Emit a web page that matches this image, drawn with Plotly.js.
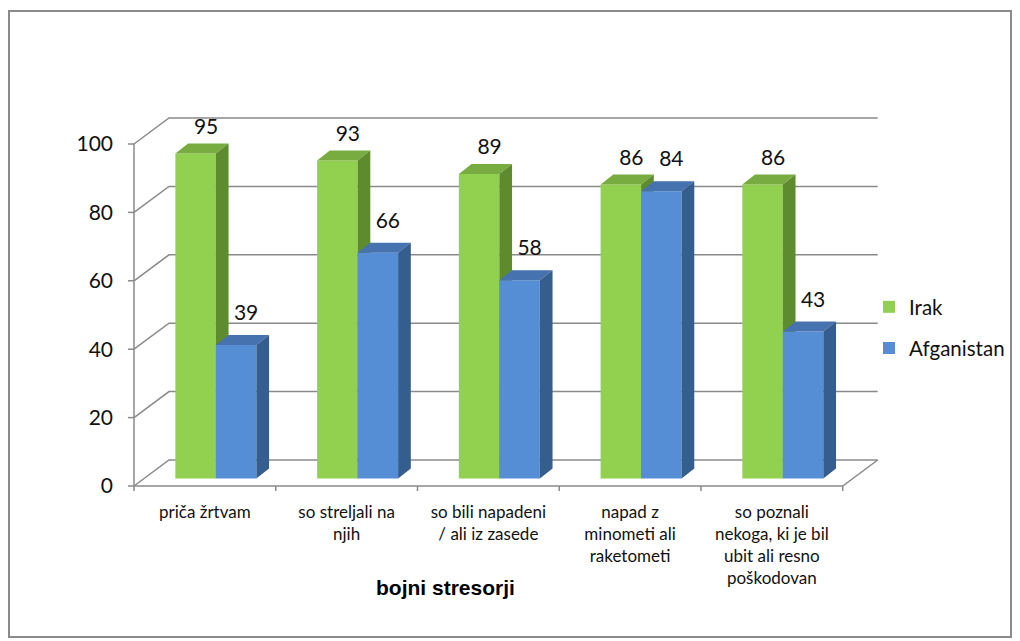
<!DOCTYPE html>
<html>
<head>
<meta charset="utf-8">
<script src="https://cdn.plot.ly/plotly-3.0.1.min.js"></script>
<style>
  html, body { margin: 0; padding: 0; background: #fff; }
  #wrap { position: relative; width: 1020px; height: 641px; }
  #chart { width: 1020px; height: 641px; }
  #frame { position: absolute; left: 8px; top: 10px; width: 1004px; height: 628px;
           border: 2px solid #8a8a8a; box-sizing: border-box; pointer-events: none; }
</style>
</head>
<body>
<div id="wrap"><div id="chart"></div><div id="frame"></div></div>
<script>
// ---- data ----
const categories = [
  'priča žrtvam',
  'so streljali na<br>njih',
  'so bili napadeni<br>/ ali iz zasede',
  'napad z<br>minometi ali<br>raketometi',
  'so poznali<br>nekoga, ki je bil<br>ubit ali resno<br>poškodovan'
];
const irak = [95, 93, 89, 86, 86];
const afganistan = [39, 66, 58, 84, 43];
const seriesNames = ['Irak', 'Afganistan'];
const yTicks = [0, 20, 40, 60, 80, 100];
const axisTitle = 'bojni stresorji';

// ---- geometry / style (pixels) ----
const W = 1020, H = 641;
const L = 126, R = 880, T = 108, B = 492;   // plot area
const FRONT_X0 = 134, FRONT_Y0 = 486;        // front plane origin
const PXU = 141.74;                           // px per category
const PYU = 3.42;                             // px per y unit
const WALL_DX = 35, WALL_DY = 26;             // back wall offset
const BAR_DX = 11, BAR_DY = 7.5;              // bar plane offset
const BAR_W = 40.5;                           // bar front width
const DEP_DX = 12.7, DEP_DY = 10;             // bar depth
const ux = p => p / PXU, uy = p => p / PYU;

const xRange = [-0.5 - ux(FRONT_X0 - L), -0.5 + ux(R - FRONT_X0)];
const yRange = [-uy(B - FRONT_Y0), uy(FRONT_Y0 - T)];

const GRID = '#8a8a8a';
const colors = {
  Irak: { front: '#92D050', top: '#78AC40', side: '#5F8B2F' },
  Afganistan: { front: '#558ED5', top: '#4672B0', side: '#355D8E' }
};
const FONT = 'Lato, "Open Sans", sans-serif';

const n = categories.length;
const xMin = -0.5, xMax = n - 0.5;

// ---- grid / walls ----
const gx = [], gy = [];
function seg(pts) { pts.forEach(p => { gx.push(p[0]); gy.push(p[1]); }); gx.push(null); gy.push(null); }
yTicks.forEach(v => {
  seg([[xMin, v], [xMin + ux(WALL_DX), v + uy(WALL_DY)], [xMax + ux(WALL_DX), v + uy(WALL_DY)]]);
  seg([[xMin - ux(6), v], [xMin, v]]);
});
seg([[xMin, 0], [xMax, 0], [xMax + ux(WALL_DX), uy(WALL_DY)]]);
seg([[xMin, 0], [xMin, yTicks[yTicks.length - 1]]]);
for (let k = 0; k <= n; k++) seg([[xMin + k, 0], [xMin + k, -uy(5)]]);

const traces = [{
  type: 'scatter', mode: 'lines', x: gx, y: gy, xaxis: 'x', yaxis: 'y',
  line: { color: GRID, width: 1.5 }, showlegend: false, hoverinfo: 'skip'
}];

// ---- bars ----
const baseU = uy(BAR_DY);
const wU = ux(BAR_W);
function barSeries(name, values, offPx, axX, axY, labelDx, labelDy) {
  const c = colors[name];
  const off = ux(offPx);
  const xs = values.map((_, i) => i + off);
  traces.push({
    type: 'bar', name: name, x: xs, y: values, base: baseU, width: wU,
    xaxis: axX, yaxis: axY, marker: { color: c.front, line: { width: 0 } },
    legendgroup: name, hoverinfo: 'skip'
  });
  const tx = [], ty = [], sx = [], sy = [];
  values.forEach((v, i) => {
    const xl = xs[i] - wU / 2, xr = xs[i] + wU / 2;
    const top = v + baseU, bot = baseU;
    const dx = ux(DEP_DX), dy = uy(DEP_DY);
    tx.push(xl, xr, xr + dx, xl + dx, xl, null);
    ty.push(top, top, top + dy, top + dy, top, null);
    sx.push(xr, xr, xr + dx, xr + dx, xr, null);
    sy.push(bot, top, top + dy, bot + dy, bot, null);
  });
  traces.push({ type: 'scatter', mode: 'lines', x: tx, y: ty, fill: 'toself', fillcolor: c.top,
    line: { width: 0, color: c.top }, xaxis: axX, yaxis: axY, showlegend: false, hoverinfo: 'skip' });
  traces.push({ type: 'scatter', mode: 'lines', x: sx, y: sy, fill: 'toself', fillcolor: c.side,
    line: { width: 0, color: c.side }, xaxis: axX, yaxis: axY, showlegend: false, hoverinfo: 'skip' });
  return values.map((v, i) => ({ x: xs[i] + ux(labelDx), y: v + baseU + uy(labelDy), t: String(v) }));
}
const labI = barSeries(seriesNames[0], irak, BAR_DX - BAR_W / 2, 'x2', 'y2', 10.5, 25);
const labA = barSeries(seriesNames[1], afganistan, BAR_DX + BAR_W / 2, 'x3', 'y3', 10, 30);
const labs = labI.concat(labA);
traces.push({
  type: 'scatter', mode: 'text', x: labs.map(d => d.x), y: labs.map(d => d.y), text: labs.map(d => d.t),
  textposition: 'middle center', textfont: { family: FONT, size: 21, color: '#111' },
  xaxis: 'x3', yaxis: 'y3', cliponaxis: false, showlegend: false, hoverinfo: 'skip'
});

const hidden = { range: xRange, visible: false, fixedrange: true };
const hiddenY = { range: yRange, visible: false, fixedrange: true };

const layout = {
  width: W, height: H, autosize: false,
  margin: { l: L, r: W - R, t: T, b: H - B, pad: 0, autoexpand: false },
  paper_bgcolor: '#ffffff', plot_bgcolor: 'rgba(0,0,0,0)',
  barmode: 'overlay', hovermode: false,
  font: { family: FONT, color: '#111' },
  xaxis: {
    range: xRange, tickvals: categories.map((_, i) => i), ticktext: categories,
    showgrid: false, zeroline: false, showline: false, ticks: '', fixedrange: true, automargin: false,
    tickfont: { family: FONT, size: 17, color: '#111' }, ticklabelstandoff: 8, tickangle: 0
  },
  yaxis: {
    range: yRange, tickvals: yTicks, ticktext: yTicks.map(String), automargin: false,
    showgrid: false, zeroline: false, showline: false, ticks: '', fixedrange: true,
    tickfont: { family: FONT, size: 21, color: '#111' }, ticklabelstandoff: 12
  },
  xaxis2: Object.assign({ overlaying: 'x', anchor: 'y2' }, hidden),
  yaxis2: Object.assign({ overlaying: 'y', anchor: 'x2' }, hiddenY),
  xaxis3: Object.assign({ overlaying: 'x', anchor: 'y3' }, hidden),
  yaxis3: Object.assign({ overlaying: 'y', anchor: 'x3' }, hiddenY),
  showlegend: true,
  legend: {
    x: (869 - L) / (R - L), xanchor: 'left', y: (B - 287) / (B - T), yanchor: 'top',
    font: { family: FONT, size: 20.5, color: '#111' }, traceorder: 'grouped',
    tracegroupgap: 11.5, bgcolor: 'rgba(0,0,0,0)', borderwidth: 0
  },
  annotations: [{
    text: '<b>' + axisTitle + '</b>', xref: 'paper', yref: 'paper',
    x: (445 - L) / (R - L), y: (B - 587) / (B - T), xanchor: 'center', yanchor: 'middle',
    showarrow: false, font: { family: '"Liberation Sans", Arial, sans-serif', size: 21, color: '#000' }
  }]
};

Plotly.newPlot('chart', traces, layout, { displayModeBar: false, staticPlot: true });
</script>
</body>
</html>
